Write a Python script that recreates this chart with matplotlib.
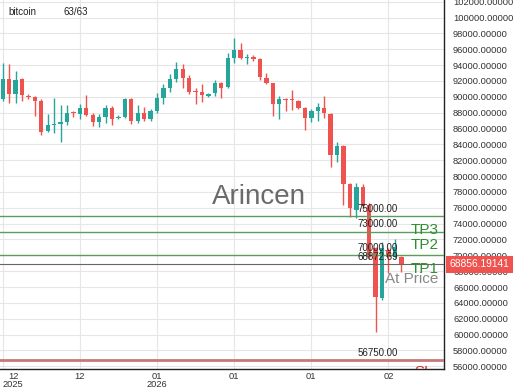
import matplotlib
matplotlib.use("Agg")
import matplotlib.pyplot as plt
import matplotlib.transforms as mtransforms
import numpy as np

plt.rcParams['font.family'] = ['Liberation Sans', 'DejaVu Sans']

symbol = "bitcoin"
count_label = "63/63"

opens = [89786, 92308, 90416, 92308, 90164, 90038, 89534, 85625, 86507, 86633,
         86886, 88147, 87894, 88651, 87768, 86886, 87516, 88651, 87390, 87516,
         89786, 87012, 88020, 87264, 88273, 89912, 91173, 92308, 93569, 92434,
         90795, 90669, 90164, 90542, 91804, 91299, 94956, 95965, 94956, 95082,
         94830, 92434, 91804, 89155, 89786, 89786, 89534, 88651, 87390, 88273,
         88651, 87894, 82598, 83733, 78941, 75663, 78563, 76293, 70871, 64568,
         70619, 69736, 69736]
closes = [92308, 90416, 92182, 90290, 90038, 89534, 85499, 86507, 86633, 86886,
          88020, 88020, 88651, 87768, 86886, 87516, 88651, 87264, 87516, 89786,
          87012, 88020, 87264, 88273, 89912, 91173, 92308, 93569, 92434, 90669,
          90669, 90290, 90416, 91804, 91173, 94956, 95965, 94956, 95082, 94830,
          92560, 91804, 89155, 89786, 89660, 89660, 88651, 87390, 88273, 88777,
          88020, 82598, 83733, 78941, 75915, 78563, 76167, 69736, 64695, 70871,
          69736, 70997, 68856.19141]
highs = [94326, 94199, 93317, 92434, 90416, 90164, 89786, 87894, 89912, 89029,
         89029, 88273, 89155, 90290, 88020, 87894, 89029, 88903, 87768, 89912,
         89912, 89029, 88777, 88525, 90542, 91677, 92938, 94452, 94199, 92812,
         91173, 91677, 90542, 92182, 91930, 95587, 97478, 96848, 95461, 95335,
         94956, 93064, 91804, 90164, 89912, 90921, 89660, 88777, 88525, 89281,
         90164, 88020, 84238, 83859, 79067, 79067, 78941, 76545, 70997, 71628,
         70871, 72006, 69863]
lows = [89534, 89281, 89281, 89534, 89786, 87642, 85120, 85499, 85373, 84238,
        86507, 87516, 87264, 87642, 86381, 86255, 86760, 86507, 87264, 87390,
        86633, 86760, 87012, 87012, 88020, 89155, 90669, 91930, 91173, 90416,
        89155, 89408, 90038, 90164, 89912, 91173, 94326, 94830, 94199, 94577,
        92182, 91677, 87642, 87264, 88273, 88399, 88525, 85877, 86886, 87012,
        87390, 81085, 81715, 76293, 74780, 74654, 75789, 69484, 60281, 64316,
        67722, 69610, 67848]

tick_idx = [0, 12, 24, 36, 48, 60]
tick_labels = ["12\n2025", "12", "01\n2026", "01", "01", "02"]

target_levels = [75000, 73000, 70000]
target_texts = ["75000.00", "73000.00", "70000.00"]
entry_level = 68872.69
entry_text = "68872.69"
stop_level = 56750
stop_text = "56750.00"
current_price = 68856.19141

UP = '#26a69a'
DOWN = '#ef5350'

fig = plt.figure(figsize=(5.2, 3.9), dpi=100)
ax = fig.add_axes([0.0, 0.0538, 0.8538, 0.9462])

n = len(opens)
x = np.arange(n)
o = np.array(opens); c = np.array(closes); h = np.array(highs); l = np.array(lows)
up = c >= o
colors = np.where(up, UP, DOWN)

ax.vlines(x, l, h, colors=colors, linewidth=1.0, zorder=3)
bottoms = np.minimum(o, c)
heights = np.maximum(np.abs(c - o), 110)
ax.bar(x, heights, bottom=bottoms, width=0.68, color=colors, edgecolor='none', zorder=4)

ax.set_xlim(-0.42, 68.63)
ax.set_ylim(55650, 102220)

yt = np.arange(56000, 102001, 2000)
ax.set_yticks(yt)
ax.set_yticklabels([f"{v:.5f}" for v in yt])
ax.yaxis.tick_right()
ax.tick_params(axis='y', length=0, pad=6.5, labelsize=6.7, colors='#333333')
ax.set_xticks(tick_idx)
ax.set_xticklabels(tick_labels, multialignment='center')
ax.tick_params(axis='x', length=0, pad=2, labelsize=6.7, colors='#333333')
ax.get_xticklabels()[0].set_horizontalalignment('left')
for t in ax.get_xticklabels():
    t.set_linespacing(0.95)

ax.grid(True, color='#e6e6e6', linewidth=0.8, zorder=0)
ax.set_axisbelow(True)
for s in ['left', 'top']:
    ax.spines[s].set_visible(False)
ax.spines['right'].set_color('#222222')
ax.spines['bottom'].set_color('#222222')
ax.spines['right'].set_linewidth(1.0)
ax.spines['bottom'].set_linewidth(1.0)

green_line = '#5b9e5b'
for lv, tx in zip(target_levels, target_texts):
    ax.axhline(lv, color=green_line, linewidth=1.0, zorder=5)
    ax.annotate(tx, xy=(0.806, lv), xycoords=('axes fraction', 'data'),
                xytext=(0, 1.5), textcoords='offset points',
                ha='left', va='bottom', fontsize=7, color='#222222', zorder=6)
ax.axhline(entry_level, color='#666666', linewidth=0.8, zorder=5)
ax.annotate(entry_text, xy=(0.806, entry_level), xycoords=('axes fraction', 'data'),
            xytext=(0, 1.5), textcoords='offset points',
            ha='left', va='bottom', fontsize=7, color='#222222', zorder=6)
ax.axhline(stop_level, color='#c87878', linewidth=2.0, zorder=5)
ax.annotate(stop_text, xy=(0.806, stop_level), xycoords=('axes fraction', 'data'),
            xytext=(0, 2), textcoords='offset points',
            ha='left', va='bottom', fontsize=7, color='#222222', zorder=6)

tp_color = '#2f8f2f'
blend = mtransforms.blended_transform_factory(ax.transAxes, ax.transData)
ax.text(0.987, target_levels[1] + 200, "TP3", transform=blend, ha='right', va='center',
        fontsize=11, color=tp_color, zorder=7)
ax.text(0.987, target_levels[2] + 1300, "TP2", transform=blend, ha='right', va='center',
        fontsize=11, color=tp_color, zorder=7)
ax.text(0.987, entry_level - 650, "TP1", transform=blend, ha='right', va='center',
        fontsize=11, color=tp_color, zorder=7)
ax.text(0.987, entry_level - 1800, "At Price", transform=blend, ha='right', va='center',
        fontsize=11, color='#888888', zorder=7)
ax.text(0.955, stop_level - 650, "SL", transform=blend, ha='center', va='top',
        fontsize=11, color='#d03030', zorder=7, clip_on=True)

ax.text(0.583, 0.466, "Arincen", transform=ax.transAxes, ha='center', va='center',
        fontsize=20, color='#5a5a5a', alpha=0.9, zorder=2)

fig.text(8/520, 1 - 12/390, symbol, ha='left', va='center', fontsize=7, color='#222222')
fig.text(63/520, 1 - 12/390, count_label, ha='left', va='center', fontsize=7, color='#222222')

ax.text(1.012, current_price, f"{current_price:.5f}", transform=blend, ha='left', va='center',
        fontsize=7.4, color='white', zorder=10, clip_on=False,
        bbox=dict(boxstyle='square,pad=0.35', fc=DOWN, ec='none'))

fig.savefig("out.png", dpi=100)
